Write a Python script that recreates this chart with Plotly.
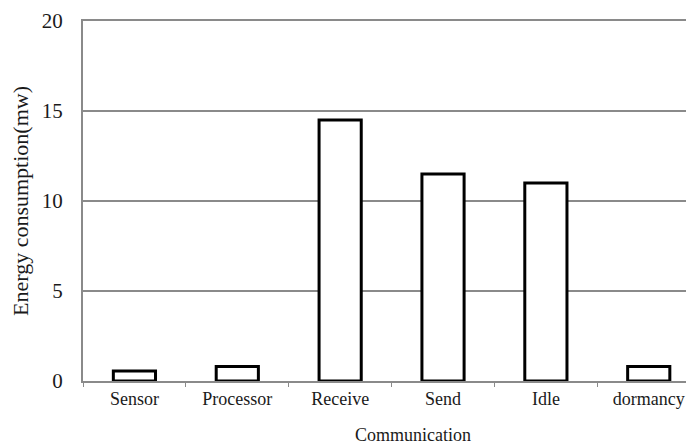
import plotly.graph_objects as go

categories = ["Sensor", "Processor", "Receive", "Send", "Idle", "dormancy"]
values = [0.55, 0.8, 14.5, 11.5, 11.0, 0.8]
y_ticks = [0, 5, 10, 15, 20]
group_label = "Communication"
y_title = "Energy consumption(mw)"

font_family = "Liberation Serif"
text_color = "#1a1a1a"
grid_color = "#8a8a8a"

fig = go.Figure()
fig.add_trace(go.Bar(
    x=categories,
    y=values,
    width=0.41,
    marker=dict(color="white", line=dict(color="black", width=3)),
))

fig.add_annotation(
    x=2.71, y=0, xref="x", yref="paper",
    text=group_label, showarrow=False,
    yanchor="middle", yshift=-54,
    font=dict(family=font_family, size=18, color=text_color),
)

fig.update_layout(
    width=686, height=438,
    margin=dict(l=75, r=0, t=13, b=65, autoexpand=False),
    plot_bgcolor="white", paper_bgcolor="white",
    showlegend=False,
    font=dict(family=font_family, color=text_color),
    xaxis=dict(
        type="category",
        range=[-0.5, 5.44],
        automargin=False,
        showline=True, linecolor=grid_color, linewidth=2, mirror=True,
        showgrid=False,
        tickson="boundaries",
        ticks="outside", ticklen=4, tickcolor=grid_color, tickwidth=1,
        tickfont=dict(family=font_family, size=18, color=text_color),
        ticklabelstandoff=0,
    ),
    yaxis=dict(
        range=[0, 20],
        automargin=False,
        tickvals=y_ticks,
        showline=True, linecolor=grid_color, linewidth=2,
        showgrid=True, gridcolor=grid_color, gridwidth=2,
        zeroline=False,
        ticks="",
        tickfont=dict(family=font_family, size=21, color=text_color),
        ticklabelstandoff=14,
        title=dict(text=y_title, font=dict(family=font_family, size=22, color=text_color), standoff=8),
    ),
)

fig.write_html("out.html")
